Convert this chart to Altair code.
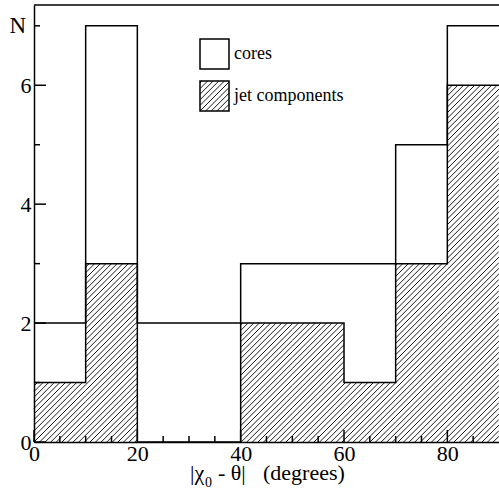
import altair as alt
import pandas as pd
import numpy as np

# ---- data ----
bin_edges = [0, 10, 20, 30, 40, 50, 60, 70, 80, 90]
cores = [2, 7, 2, 2, 3, 3, 3, 5, 7]
jets = [1, 3, 0, 0, 2, 2, 1, 3, 6]
x_major = [0, 20, 40, 60, 80]
x_minor = [5, 10, 15, 25, 30, 35, 45, 50, 55, 65, 70, 75, 85]
y_major = [0, 2, 4, 6]
y_minor = [1, 3, 5, 7]
legend_labels = ["cores", "jet components"]

# ---- layout ----
W, H = 465, 437
XMAX, YMAX = 90, 7.35
sx, sy = W / XMAX, H / YMAX
SP = 5.6          # hatch spacing (px)
FONT = "Times New Roman, Liberation Serif, serif"

xs = alt.Scale(domain=[0, XMAX], nice=False, zero=False)
ys = alt.Scale(domain=[0, YMAX], nice=False, zero=False)
xax = alt.Axis(values=x_major, ticks=False, grid=False, domain=True, domainColor="black",
               domainWidth=1.5, labelFont=FONT, labelFontSize=22, labelColor="black",
               labelPadding=1, title=None, labelFlush=False)
yax = alt.Axis(values=y_major, ticks=False, grid=False, domain=True, domainColor="black",
               domainWidth=1.5, labelFont=FONT, labelFontSize=22, labelColor="black",
               labelPadding=3, title=None)

def X(f):
    return alt.X(f, type="quantitative", scale=xs, axis=xax)

def Y(f):
    return alt.Y(f, type="quantitative", scale=ys, axis=yax)

# step outlines
step_c = pd.DataFrame({"x": bin_edges, "y": cores + [cores[-1]]})
step_j = pd.DataFrame({"x": bin_edges, "y": jets + [jets[-1]]})

# hatch segments (derived from jet bins)
segs = []
for i, h in enumerate(jets):
    u0, u1, hp = bin_edges[i] * sx, bin_edges[i + 1] * sx, h * sy
    if hp <= 0:
        continue
    for k in range(int(np.floor((u0 - hp) / SP)) - 1, int(np.ceil(u1 / SP)) + 1):
        c = k * SP
        us, ue = max(u0, c), min(u1, c + hp)
        if ue > us:
            segs.append(dict(x=us / sx, y=(us - c) / sy, x2=ue / sx, y2=(ue - c) / sy))
hatch = pd.DataFrame(segs)

# legend hatch box (pixel box converted to data units)
LX0, LX1, LY0, LY1 = 166, 195, 76, 106
lsegs = []
bw, bh = LX1 - LX0, LY1 - LY0
for k in range(int(np.floor(-bh / SP)) - 1, int(np.ceil(bw / SP)) + 1):
    c = k * SP
    us, ue = max(0, c), min(bw, c + bh)
    if ue > us:
        lsegs.append(dict(x=(LX0 + us) / sx, y=(H - (LY1 - (us - c))) / sy,
                          x2=(LX0 + ue) / sx, y2=(H - (LY1 - (ue - c))) / sy))
lhatch = pd.DataFrame(lsegs)

one = pd.DataFrame({"a": [0]})

layers = []
layers.append(alt.Chart(hatch).mark_rule(color="black", strokeWidth=0.9).encode(
    x=X("x"), y=Y("y"), x2="x2", y2="y2"))
layers.append(alt.Chart(step_j).mark_line(color="black", strokeWidth=1.5,
                                          interpolate="step-after").encode(x=X("x"), y=Y("y")))
layers.append(alt.Chart(step_c).mark_line(color="black", strokeWidth=1.5,
                                          interpolate="step-after").encode(x=X("x"), y=Y("y")))
# ticks (inward)
layers.append(alt.Chart(pd.DataFrame({"y": y_major})).mark_rule(color="black", strokeWidth=1.5).encode(
    y=Y("y"), x=alt.value(0), x2=alt.value(12)))
layers.append(alt.Chart(pd.DataFrame({"y": y_minor})).mark_rule(color="black", strokeWidth=1.5).encode(
    y=Y("y"), x=alt.value(0), x2=alt.value(6)))
layers.append(alt.Chart(pd.DataFrame({"x": x_major})).mark_rule(color="black", strokeWidth=1.5).encode(
    x=X("x"), y=alt.value(H), y2=alt.value(H - 12)))
layers.append(alt.Chart(pd.DataFrame({"x": x_minor})).mark_rule(color="black", strokeWidth=1.5).encode(
    x=X("x"), y=alt.value(H), y2=alt.value(H - 6)))
# top border
layers.append(alt.Chart(one).mark_rule(color="black", strokeWidth=1.5).encode(
    x=alt.value(0), x2=alt.value(W), y=alt.value(0)))
# N label at y=7
layers.append(alt.Chart(pd.DataFrame({"y": [7], "t": ["N"]})).mark_text(
    font=FONT, fontSize=23, color="black", align="right", baseline="middle").encode(
    y=Y("y"), x=alt.value(-8), text="t:N"))
# legend
layers.append(alt.Chart(one).mark_rect(fill="white", stroke="black", strokeWidth=1.5).encode(
    x=alt.value(LX0), x2=alt.value(LX1), y=alt.value(34), y2=alt.value(64)))
layers.append(alt.Chart(lhatch).mark_rule(color="black", strokeWidth=0.9).encode(
    x=X("x"), y=Y("y"), x2="x2", y2="y2"))
layers.append(alt.Chart(one).mark_rect(fill=None, stroke="black", strokeWidth=1.5).encode(
    x=alt.value(LX0), x2=alt.value(LX1), y=alt.value(LY0), y2=alt.value(LY1)))
leg = pd.DataFrame({"t": legend_labels, "py": [49, 91]})
layers.append(alt.Chart(leg).mark_text(font=FONT, fontSize=18, color="black", align="left",
                                       baseline="middle").encode(
    x=alt.value(200), y=alt.Y("py:Q", scale=None), text="t:N"))
# x title
tt = pd.DataFrame({"t": ["|\u03c7", "- \u03b8|", "(degrees)"], "px": [156, 184, 229]})
layers.append(alt.Chart(tt).mark_text(font=FONT, fontSize=22, color="black", align="left",
                                      baseline="alphabetic").encode(
    x=alt.X("px:Q", scale=None), y=alt.value(475), text="t:N"))
layers.append(alt.Chart(pd.DataFrame({"t": ["0"]})).mark_text(font=FONT, fontSize=14, color="black",
                                                              align="left", baseline="alphabetic").encode(
    x=alt.value(171), y=alt.value(482), text="t:N"))

chart = alt.layer(*layers).properties(
    width=W, height=H,
    padding={"left": 34, "top": 5, "right": 0, "bottom": 52},
    autosize="none",
).configure_view(stroke=None)

chart.save("out.html", embed_options={"renderer": "svg", "actions": False})
